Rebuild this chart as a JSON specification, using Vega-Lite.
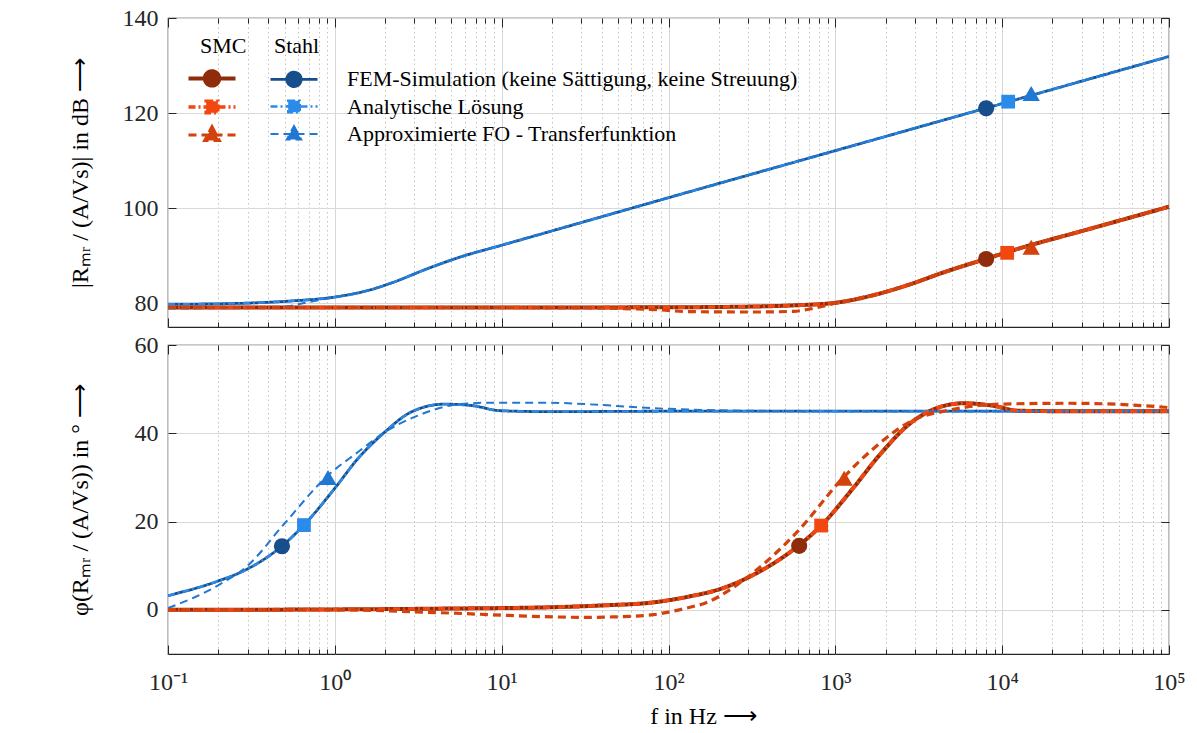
{
  "$schema": "https://vega.github.io/schema/vega-lite/v6.json",
  "padding": {"left": 67, "top": 5, "right": 10, "bottom": 5},
  "config": {
    "font": "Liberation Serif",
    "view": {"stroke": "#262626", "strokeWidth": 1.2},
    "axis": {"labelFont": "Liberation Serif", "labelFontSize": 24, "labelColor": "#262626", "titleFont": "Liberation Serif", "titleFontSize": 24, "titleFontWeight": "normal", "titleColor": "#000000", "domain": false, "tickColor": "#262626", "labelFlush": false, "labelOverlap": false, "labelBound": false}
  },
  "datasets": {
    "mag": [
      {"s": "Stahl-FEM", "f": 0.1, "v": 79.8}, {"s": "Stahl-FEM", "f": 0.1778, "v": 79.85}, {"s": "Stahl-FEM", "f": 0.3162, "v": 80.05}, {"s": "Stahl-FEM", "f": 0.5623, "v": 80.5}, {"s": "Stahl-FEM", "f": 1, "v": 81.3}, {"s": "Stahl-FEM", "f": 1.585, "v": 82.7}, {"s": "Stahl-FEM", "f": 2.239, "v": 84.4}, {"s": "Stahl-FEM", "f": 3.548, "v": 87.2}, {"s": "Stahl-FEM", "f": 5.623, "v": 89.7}, {"s": "Stahl-FEM", "f": 10, "v": 92.2}, {"s": "Stahl-FEM", "f": 31.62, "v": 97.2}, {"s": "Stahl-FEM", "f": 100, "v": 102.2}, {"s": "Stahl-FEM", "f": 1000, "v": 112.1}, {"s": "Stahl-FEM", "f": 10000, "v": 122.0}, {"s": "Stahl-FEM", "f": 100000, "v": 131.9},
      {"s": "Stahl-An", "f": 0.1, "v": 79.8}, {"s": "Stahl-An", "f": 0.1778, "v": 79.85}, {"s": "Stahl-An", "f": 0.3162, "v": 80.05}, {"s": "Stahl-An", "f": 0.5623, "v": 80.5}, {"s": "Stahl-An", "f": 1, "v": 81.3}, {"s": "Stahl-An", "f": 1.585, "v": 82.7}, {"s": "Stahl-An", "f": 2.239, "v": 84.4}, {"s": "Stahl-An", "f": 3.548, "v": 87.2}, {"s": "Stahl-An", "f": 5.623, "v": 89.7}, {"s": "Stahl-An", "f": 10, "v": 92.2}, {"s": "Stahl-An", "f": 31.62, "v": 97.2}, {"s": "Stahl-An", "f": 100, "v": 102.2}, {"s": "Stahl-An", "f": 1000, "v": 112.1}, {"s": "Stahl-An", "f": 10000, "v": 122.0}, {"s": "Stahl-An", "f": 100000, "v": 131.9},
      {"s": "Stahl-Ap", "f": 0.1, "v": 78.9}, {"s": "Stahl-Ap", "f": 0.3162, "v": 79.0}, {"s": "Stahl-Ap", "f": 0.5012, "v": 79.3}, {"s": "Stahl-Ap", "f": 0.7079, "v": 80.3}, {"s": "Stahl-Ap", "f": 1, "v": 81.3}, {"s": "Stahl-Ap", "f": 1.585, "v": 82.7}, {"s": "Stahl-Ap", "f": 2.239, "v": 84.4}, {"s": "Stahl-Ap", "f": 3.548, "v": 87.2}, {"s": "Stahl-Ap", "f": 5.623, "v": 89.7}, {"s": "Stahl-Ap", "f": 10, "v": 92.2}, {"s": "Stahl-Ap", "f": 31.62, "v": 97.2}, {"s": "Stahl-Ap", "f": 100, "v": 102.2}, {"s": "Stahl-Ap", "f": 1000, "v": 112.1}, {"s": "Stahl-Ap", "f": 10000, "v": 122.0}, {"s": "Stahl-Ap", "f": 100000, "v": 131.9},
      {"s": "SMC-FEM", "f": 0.1, "v": 79.1}, {"s": "SMC-FEM", "f": 10, "v": 79.1}, {"s": "SMC-FEM", "f": 100, "v": 79.15}, {"s": "SMC-FEM", "f": 316.2, "v": 79.3}, {"s": "SMC-FEM", "f": 562.3, "v": 79.55}, {"s": "SMC-FEM", "f": 1000, "v": 80.1}, {"s": "SMC-FEM", "f": 1778, "v": 81.9}, {"s": "SMC-FEM", "f": 2818, "v": 84.0}, {"s": "SMC-FEM", "f": 4467, "v": 86.5}, {"s": "SMC-FEM", "f": 7943, "v": 89.3}, {"s": "SMC-FEM", "f": 12589, "v": 91.5}, {"s": "SMC-FEM", "f": 31623, "v": 95.4}, {"s": "SMC-FEM", "f": 100000, "v": 100.3},
      {"s": "SMC-An", "f": 0.1, "v": 79.1}, {"s": "SMC-An", "f": 10, "v": 79.1}, {"s": "SMC-An", "f": 100, "v": 79.15}, {"s": "SMC-An", "f": 316.2, "v": 79.3}, {"s": "SMC-An", "f": 562.3, "v": 79.55}, {"s": "SMC-An", "f": 1000, "v": 80.1}, {"s": "SMC-An", "f": 1778, "v": 81.9}, {"s": "SMC-An", "f": 2818, "v": 84.0}, {"s": "SMC-An", "f": 4467, "v": 86.5}, {"s": "SMC-An", "f": 7943, "v": 89.3}, {"s": "SMC-An", "f": 12589, "v": 91.5}, {"s": "SMC-An", "f": 31623, "v": 95.4}, {"s": "SMC-An", "f": 100000, "v": 100.3},
      {"s": "SMC-Ap", "f": 0.1, "v": 79.1}, {"s": "SMC-Ap", "f": 10, "v": 79.1}, {"s": "SMC-Ap", "f": 31.62, "v": 79.05}, {"s": "SMC-Ap", "f": 63.1, "v": 78.8}, {"s": "SMC-Ap", "f": 89.1, "v": 78.6}, {"s": "SMC-Ap", "f": 125.9, "v": 78.25}, {"s": "SMC-Ap", "f": 316.2, "v": 78.15}, {"s": "SMC-Ap", "f": 562.3, "v": 78.3}, {"s": "SMC-Ap", "f": 707.9, "v": 78.8}, {"s": "SMC-Ap", "f": 1000, "v": 80.0}, {"s": "SMC-Ap", "f": 1778, "v": 81.9}, {"s": "SMC-Ap", "f": 2818, "v": 84.0}, {"s": "SMC-Ap", "f": 4467, "v": 86.5}, {"s": "SMC-Ap", "f": 7943, "v": 89.3}, {"s": "SMC-Ap", "f": 12589, "v": 91.5}, {"s": "SMC-Ap", "f": 31623, "v": 95.4}, {"s": "SMC-Ap", "f": 100000, "v": 100.3}
    ],
    "ph": [
      {"s": "Stahl-FEM", "f": 0.1, "v": 3.2}, {"s": "Stahl-FEM", "f": 0.1986, "v": 6.5}, {"s": "Stahl-FEM", "f": 0.2864, "v": 8.9}, {"s": "Stahl-FEM", "f": 0.4764, "v": 14.3}, {"s": "Stahl-FEM", "f": 0.6561, "v": 19.3}, {"s": "Stahl-FEM", "f": 0.9931, "v": 27.4}, {"s": "Stahl-FEM", "f": 1.371, "v": 34.2}, {"s": "Stahl-FEM", "f": 1.982, "v": 40.2}, {"s": "Stahl-FEM", "f": 2.864, "v": 44.8}, {"s": "Stahl-FEM", "f": 4.539, "v": 46.6}, {"s": "Stahl-FEM", "f": 6.561, "v": 46.3}, {"s": "Stahl-FEM", "f": 9.908, "v": 45.1}, {"s": "Stahl-FEM", "f": 19.77, "v": 44.9}, {"s": "Stahl-FEM", "f": 100, "v": 45.0}, {"s": "Stahl-FEM", "f": 100000, "v": 45.0},
      {"s": "Stahl-An", "f": 0.1, "v": 3.2}, {"s": "Stahl-An", "f": 0.1986, "v": 6.5}, {"s": "Stahl-An", "f": 0.2864, "v": 8.9}, {"s": "Stahl-An", "f": 0.4764, "v": 14.3}, {"s": "Stahl-An", "f": 0.6561, "v": 19.3}, {"s": "Stahl-An", "f": 0.9931, "v": 27.4}, {"s": "Stahl-An", "f": 1.371, "v": 34.2}, {"s": "Stahl-An", "f": 1.982, "v": 40.2}, {"s": "Stahl-An", "f": 2.864, "v": 44.8}, {"s": "Stahl-An", "f": 4.539, "v": 46.6}, {"s": "Stahl-An", "f": 6.561, "v": 46.3}, {"s": "Stahl-An", "f": 9.908, "v": 45.1}, {"s": "Stahl-An", "f": 19.77, "v": 44.9}, {"s": "Stahl-An", "f": 100, "v": 45.0}, {"s": "Stahl-An", "f": 100000, "v": 45.0},
      {"s": "Stahl-Ap", "f": 0.1, "v": 0.4}, {"s": "Stahl-Ap", "f": 0.1986, "v": 5.5}, {"s": "Stahl-Ap", "f": 0.2999, "v": 10.0}, {"s": "Stahl-Ap", "f": 0.4977, "v": 19.5}, {"s": "Stahl-Ap", "f": 0.9057, "v": 30.4}, {"s": "Stahl-Ap", "f": 1.371, "v": 35.7}, {"s": "Stahl-Ap", "f": 1.982, "v": 40.2}, {"s": "Stahl-Ap", "f": 3.141, "v": 44.0}, {"s": "Stahl-Ap", "f": 4.977, "v": 46.3}, {"s": "Stahl-Ap", "f": 7.889, "v": 46.9}, {"s": "Stahl-Ap", "f": 19.77, "v": 46.9}, {"s": "Stahl-Ap", "f": 39.81, "v": 46.4}, {"s": "Stahl-Ap", "f": 79.43, "v": 45.7}, {"s": "Stahl-Ap", "f": 158.5, "v": 45.3}, {"s": "Stahl-Ap", "f": 316.2, "v": 45.1}, {"s": "Stahl-Ap", "f": 1000, "v": 45.0}, {"s": "Stahl-Ap", "f": 100000, "v": 45.0},
      {"s": "SMC-FEM", "f": 0.1, "v": 0.0}, {"s": "SMC-FEM", "f": 1, "v": 0.1}, {"s": "SMC-FEM", "f": 5.012, "v": 0.3}, {"s": "SMC-FEM", "f": 20.42, "v": 0.6}, {"s": "SMC-FEM", "f": 39.81, "v": 1.0}, {"s": "SMC-FEM", "f": 81.28, "v": 1.7}, {"s": "SMC-FEM", "f": 131.8, "v": 3.0}, {"s": "SMC-FEM", "f": 205.1, "v": 4.75}, {"s": "SMC-FEM", "f": 331.1, "v": 8.15}, {"s": "SMC-FEM", "f": 603.9, "v": 14.6}, {"s": "SMC-FEM", "f": 822.2, "v": 19.1}, {"s": "SMC-FEM", "f": 1268, "v": 27.4}, {"s": "SMC-FEM", "f": 1862, "v": 35.3}, {"s": "SMC-FEM", "f": 2864, "v": 42.5}, {"s": "SMC-FEM", "f": 4198, "v": 45.9}, {"s": "SMC-FEM", "f": 5875, "v": 46.8}, {"s": "SMC-FEM", "f": 8630, "v": 46.3}, {"s": "SMC-FEM", "f": 12647, "v": 45.1}, {"s": "SMC-FEM", "f": 25119, "v": 45.0}, {"s": "SMC-FEM", "f": 100000, "v": 45.0},
      {"s": "SMC-An", "f": 0.1, "v": 0.0}, {"s": "SMC-An", "f": 1, "v": 0.1}, {"s": "SMC-An", "f": 5.012, "v": 0.3}, {"s": "SMC-An", "f": 20.42, "v": 0.6}, {"s": "SMC-An", "f": 39.81, "v": 1.0}, {"s": "SMC-An", "f": 81.28, "v": 1.7}, {"s": "SMC-An", "f": 131.8, "v": 3.0}, {"s": "SMC-An", "f": 205.1, "v": 4.75}, {"s": "SMC-An", "f": 331.1, "v": 8.15}, {"s": "SMC-An", "f": 603.9, "v": 14.6}, {"s": "SMC-An", "f": 822.2, "v": 19.1}, {"s": "SMC-An", "f": 1268, "v": 27.4}, {"s": "SMC-An", "f": 1862, "v": 35.3}, {"s": "SMC-An", "f": 2864, "v": 42.5}, {"s": "SMC-An", "f": 4198, "v": 45.9}, {"s": "SMC-An", "f": 5875, "v": 46.8}, {"s": "SMC-An", "f": 8630, "v": 46.3}, {"s": "SMC-An", "f": 12647, "v": 45.1}, {"s": "SMC-An", "f": 25119, "v": 45.0}, {"s": "SMC-An", "f": 100000, "v": 45.0},
      {"s": "SMC-Ap", "f": 0.1, "v": 0.0}, {"s": "SMC-Ap", "f": 1, "v": 0.0}, {"s": "SMC-Ap", "f": 2.399, "v": -0.3}, {"s": "SMC-Ap", "f": 3.311, "v": -0.5}, {"s": "SMC-Ap", "f": 5.129, "v": -0.75}, {"s": "SMC-Ap", "f": 10, "v": -1.2}, {"s": "SMC-Ap", "f": 20.42, "v": -1.6}, {"s": "SMC-Ap", "f": 31.62, "v": -1.7}, {"s": "SMC-Ap", "f": 46.77, "v": -1.6}, {"s": "SMC-Ap", "f": 81.28, "v": -1.1}, {"s": "SMC-Ap", "f": 100, "v": -0.5}, {"s": "SMC-Ap", "f": 140, "v": 0.75}, {"s": "SMC-Ap", "f": 162.2, "v": 1.4}, {"s": "SMC-Ap", "f": 234.4, "v": 4.6}, {"s": "SMC-Ap", "f": 260.6, "v": 5.8}, {"s": "SMC-Ap", "f": 588.8, "v": 17.6}, {"s": "SMC-Ap", "f": 1099, "v": 29.7}, {"s": "SMC-Ap", "f": 1774, "v": 37.2}, {"s": "SMC-Ap", "f": 3006, "v": 43.2}, {"s": "SMC-Ap", "f": 4624, "v": 45.1}, {"s": "SMC-Ap", "f": 9484, "v": 46.6}, {"s": "SMC-Ap", "f": 24774, "v": 46.8}, {"s": "SMC-Ap", "f": 94842, "v": 45.9}, {"s": "SMC-Ap", "f": 100000, "v": 45.8}
    ],
    "mk": [
      {"q": "mag", "s": "SMC-FEM", "f": 8017, "v": 89.3}, {"q": "mag", "s": "SMC-An", "f": 10715, "v": 90.6}, {"q": "mag", "s": "SMC-Ap", "f": 14928, "v": 91.8},
      {"q": "mag", "s": "Stahl-FEM", "f": 8017, "v": 121.0}, {"q": "mag", "s": "Stahl-An", "f": 10864, "v": 122.4}, {"q": "mag", "s": "Stahl-Ap", "f": 14928, "v": 124.1},
      {"q": "ph", "s": "Stahl-FEM", "f": 0.482, "v": 14.4}, {"q": "ph", "s": "Stahl-An", "f": 0.653, "v": 19.2}, {"q": "ph", "s": "Stahl-Ap", "f": 0.91, "v": 30.0},
      {"q": "ph", "s": "SMC-FEM", "f": 607, "v": 14.5}, {"q": "ph", "s": "SMC-An", "f": 822, "v": 19.1}, {"q": "ph", "s": "SMC-Ap", "f": 1130, "v": 29.8}
    ]
  },
  "spacing": 3,
  "vconcat": [
    {
      "width": 1001, "height": 309,
      "layer": [
        {
          "data": {"name": "mag"},
          "mark": {"type": "point", "opacity": 0},
          "encoding": {
            "x": {"field": "f", "type": "quantitative", "scale": {"type": "log", "domain": [0.1, 100000], "nice": false},
              "axis": {"orient": "top", "values": [0.1,0.2,0.3,0.4,0.5,0.6,0.7,0.8,0.9,1,2,3,4,5,6,7,8,9,10,20,30,40,50,60,70,80,90,100,200,300,400,500,600,700,800,900,1000,2000,3000,4000,5000,6000,7000,8000,9000,10000,20000,30000,40000,50000,60000,70000,80000,90000,100000], "labels": false, "grid": false, "title": null,
                "tickSize": {"condition": {"test": "abs(log(datum.value)/LN10 - round(log(datum.value)/LN10)) < 0.001", "value": -9}, "value": -5}}},
            "y": {"field": "v", "type": "quantitative", "scale": {"domain": [75, 140], "nice": false, "zero": false},
              "axis": {"orient": "right", "values": [80, 100, 120, 140], "labels": false, "grid": false, "title": null, "tickSize": -8}}
          }
        },
        {
          "data": {"name": "mag"},
          "transform": [{"filter": {"field": "s", "oneOf": ["SMC-FEM", "Stahl-FEM"]}}],
          "mark": {"type": "line", "interpolate": "monotone", "clip": true},
          "encoding": {
            "x": {"field": "f", "type": "quantitative", "scale": {"type": "log", "domain": [0.1, 100000], "nice": false},
              "axis": {"orient": "bottom", "values": [0.1,0.2,0.3,0.4,0.5,0.6,0.7,0.8,0.9,1,2,3,4,5,6,7,8,9,10,20,30,40,50,60,70,80,90,100,200,300,400,500,600,700,800,900,1000,2000,3000,4000,5000,6000,7000,8000,9000,10000,20000,30000,40000,50000,60000,70000,80000,90000,100000], "labels": false, "title": null, "grid": true,
                "gridColor": {"condition": {"test": "abs(log(datum.value)/LN10 - round(log(datum.value)/LN10)) < 0.001", "value": "#d6d6d6"}, "value": "#c2c2c2"},
                "gridDash": {"condition": {"test": "abs(log(datum.value)/LN10 - round(log(datum.value)/LN10)) < 0.001", "value": []}, "value": [1.5, 3]},
                "tickSize": {"condition": {"test": "abs(log(datum.value)/LN10 - round(log(datum.value)/LN10)) < 0.001", "value": -9}, "value": -5}}},
            "y": {"field": "v", "type": "quantitative", "scale": {"domain": [75, 140], "nice": false, "zero": false},
              "axis": {"orient": "left", "values": [80, 100, 120, 140], "title": "|Rₘᵣ / (A/Vs)|  in dB  ⟶", "grid": true, "gridColor": "#d9d9d9", "tickSize": -8, "labelPadding": 18, "titlePadding": 30}},
            "color": {"field": "s", "type": "nominal", "scale": {"domain": ["SMC-FEM","SMC-An","SMC-Ap","Stahl-FEM","Stahl-An","Stahl-Ap"], "range": ["#8E2C0C","#F2470F","#D3410C","#174E8C","#2A8BEA","#1F78D2"]}},
            "strokeDash": {"field": "s", "type": "nominal", "scale": {"domain": ["SMC-FEM","SMC-An","SMC-Ap","Stahl-FEM","Stahl-An","Stahl-Ap"], "range": [[1,0],[7,3,2,3],[8,5],[1,0],[7,3,2,3],[8,5]]}, "legend": null},
            "strokeWidth": {"field": "s", "type": "ordinal", "scale": {"domain": ["SMC-FEM","SMC-An","SMC-Ap","Stahl-FEM","Stahl-An","Stahl-Ap"], "range": [4,2,2,4,2,2]}, "legend": null}
          }
        },
        {
          "data": {"name": "mag"},
          "transform": [{"filter": {"field": "s", "oneOf": ["SMC-An", "Stahl-An", "SMC-Ap", "Stahl-Ap"]}}],
          "mark": {"type": "line", "interpolate": "monotone", "clip": true},
          "encoding": {
            "x": {"field": "f", "type": "quantitative", "scale": {"type": "log", "domain": [0.1, 100000], "nice": false}, "axis": null},
            "y": {"field": "v", "type": "quantitative", "scale": {"domain": [75, 140], "nice": false, "zero": false}, "axis": null},
            "color": {"field": "s", "type": "nominal"},
            "strokeDash": {"field": "s", "type": "nominal", "legend": null},
            "strokeWidth": {"field": "s", "type": "ordinal", "legend": null}
          }
        },
        {
          "data": {"name": "mk"},
          "transform": [{"filter": "datum.q == 'mag' && indexof(datum.s, 'FEM') >= 0"}],
          "mark": {"type": "point", "shape": "circle", "filled": true, "size": 260, "opacity": 1},
          "encoding": {
            "x": {"field": "f", "type": "quantitative", "scale": {"type": "log", "domain": [0.1, 100000], "nice": false}, "axis": null},
            "y": {"field": "v", "type": "quantitative", "scale": {"domain": [75, 140], "nice": false, "zero": false}, "axis": null},
            "color": {"field": "s", "type": "nominal"}
          }
        },
        {
          "data": {"name": "mk"},
          "transform": [{"filter": "datum.q == 'mag' && indexof(datum.s, '-An') >= 0"}],
          "mark": {"type": "point", "shape": "square", "filled": true, "size": 190, "opacity": 1},
          "encoding": {
            "x": {"field": "f", "type": "quantitative", "scale": {"type": "log", "domain": [0.1, 100000], "nice": false}, "axis": null},
            "y": {"field": "v", "type": "quantitative", "scale": {"domain": [75, 140], "nice": false, "zero": false}, "axis": null},
            "color": {"field": "s", "type": "nominal"}
          }
        },
        {
          "data": {"name": "mk"},
          "transform": [{"filter": "datum.q == 'mag' && indexof(datum.s, '-Ap') >= 0"}],
          "mark": {"type": "point", "shape": "triangle-up", "filled": true, "size": 300, "opacity": 1},
          "encoding": {
            "x": {"field": "f", "type": "quantitative", "scale": {"type": "log", "domain": [0.1, 100000], "nice": false}, "axis": null},
            "y": {"field": "v", "type": "quantitative", "scale": {"domain": [75, 140], "nice": false, "zero": false}, "axis": null},
            "color": {"field": "s", "type": "nominal"}
          }
        },
        {
          "data": {"name": "mk"},
          "transform": [{"filter": "datum.v > 1000"}],
          "mark": {"type": "point", "filled": true},
          "encoding": {
            "shape": {"field": "s", "type": "nominal", "scale": {"domain": ["SMC-FEM","SMC-An","SMC-Ap","Stahl-FEM","Stahl-An","Stahl-Ap"], "range": [
              "M-2.35,0H2.35M0.72,0A0.72,0.72,0,1,1,-0.72,0A0.72,0.72,0,1,1,0.72,0Z",
              "M-2.35,0H2.35M-0.58,-0.58H0.58V0.58H-0.58Z",
              "M-2.35,0H2.35M0,-0.8L0.72,0.55H-0.72Z",
              "M-2.35,0H2.35M0.72,0A0.72,0.72,0,1,1,-0.72,0A0.72,0.72,0,1,1,0.72,0Z",
              "M-2.35,0H2.35M-0.58,-0.58H0.58V0.58H-0.58Z",
              "M-2.35,0H2.35M0,-0.8L0.72,0.55H-0.72Z"]}, "legend": null},
            "color": {"field": "s", "type": "nominal",
              "legend": {
                "title": "\u00a0SMC\u00a0\u00a0\u00a0\u00a0\u00a0Stahl",
                "orient": "none", "legendX": 32, "legendY": 18,
                "columns": 2, "gridAlign": "each",
                "symbolSize": 400,
                "labelExpr": "datum.label == 'Stahl-FEM' ? 'FEM-Simulation (keine Sättigung, keine Streuung)' : datum.label == 'Stahl-An' ? 'Analytische Lösung' : datum.label == 'Stahl-Ap' ? 'Approximierte FO - Transferfunktion' : ''",
                "labelFont": "Liberation Serif", "labelFontSize": 22, "labelColor": "#000000", "labelLimit": 800,
                "titleFont": "Liberation Serif", "titleFontSize": 22, "titleFontWeight": "normal", "titleColor": "#000000", "titlePadding": 8,
                "columnPadding": -1, "labelOffset": 41, "rowPadding": 0,
                "encode": {"symbols": {"update": {
                  "shape": {"scale": "shape", "field": "value"},
                  "fill": {"scale": "color", "field": "value"},
                  "stroke": {"scale": "color", "field": "value"},
                  "strokeDash": {"scale": "strokeDash", "field": "value"},
                  "strokeWidth": {"scale": "strokeWidth", "field": "value"},
                  "opacity": {"value": 1}
                }}}
              }
            }
          }
        }
      ]
    },
    {
      "width": 1001, "height": 309,
      "layer": [
        {
          "data": {"name": "ph"},
          "mark": {"type": "point", "opacity": 0},
          "encoding": {
            "x": {"field": "f", "type": "quantitative", "scale": {"type": "log", "domain": [0.1, 100000], "nice": false},
              "axis": {"orient": "top", "values": [0.1,0.2,0.3,0.4,0.5,0.6,0.7,0.8,0.9,1,2,3,4,5,6,7,8,9,10,20,30,40,50,60,70,80,90,100,200,300,400,500,600,700,800,900,1000,2000,3000,4000,5000,6000,7000,8000,9000,10000,20000,30000,40000,50000,60000,70000,80000,90000,100000], "labels": false, "grid": false, "title": null,
                "tickSize": {"condition": {"test": "abs(log(datum.value)/LN10 - round(log(datum.value)/LN10)) < 0.001", "value": -9}, "value": -5}}},
            "y": {"field": "v", "type": "quantitative", "scale": {"domain": [-10, 60], "nice": false, "zero": false},
              "axis": {"orient": "right", "values": [0, 20, 40, 60], "labels": false, "grid": false, "title": null, "tickSize": -8}}
          }
        },
        {
          "data": {"name": "ph"},
          "transform": [{"filter": {"field": "s", "oneOf": ["SMC-FEM", "Stahl-FEM"]}}],
          "mark": {"type": "line", "interpolate": "monotone", "clip": true},
          "encoding": {
            "x": {"field": "f", "type": "quantitative", "scale": {"type": "log", "domain": [0.1, 100000], "nice": false},
              "axis": {"orient": "bottom", "values": [0.1,0.2,0.3,0.4,0.5,0.6,0.7,0.8,0.9,1,2,3,4,5,6,7,8,9,10,20,30,40,50,60,70,80,90,100,200,300,400,500,600,700,800,900,1000,2000,3000,4000,5000,6000,7000,8000,9000,10000,20000,30000,40000,50000,60000,70000,80000,90000,100000],
                "title": "f  in Hz  ⟶", "titlePadding": 6, "titleX": 535, "grid": true,
                "labelExpr": "(abs(log(datum.value)/LN10 - round(log(datum.value)/LN10)) < 0.001) ? '10' + ['⁻¹','⁰','¹','²','³','⁴','⁵'][round(log(datum.value)/LN10) + 1] : ''",
                "labelPadding": 25,
                "gridColor": {"condition": {"test": "abs(log(datum.value)/LN10 - round(log(datum.value)/LN10)) < 0.001", "value": "#d6d6d6"}, "value": "#c2c2c2"},
                "gridDash": {"condition": {"test": "abs(log(datum.value)/LN10 - round(log(datum.value)/LN10)) < 0.001", "value": []}, "value": [1.5, 3]},
                "tickSize": {"condition": {"test": "abs(log(datum.value)/LN10 - round(log(datum.value)/LN10)) < 0.001", "value": -9}, "value": -5}}},
            "y": {"field": "v", "type": "quantitative", "scale": {"domain": [-10, 60], "nice": false, "zero": false},
              "axis": {"orient": "left", "values": [0, 20, 40, 60], "title": "φ(Rₘᵣ / (A/Vs))  in °  ⟶", "grid": true, "gridColor": "#d9d9d9", "tickSize": -8, "labelPadding": 18, "titlePadding": 42}},
            "color": {"field": "s", "type": "nominal"},
            "strokeDash": {"field": "s", "type": "nominal", "legend": null},
            "strokeWidth": {"field": "s", "type": "ordinal", "legend": null}
          }
        },
        {
          "data": {"name": "ph"},
          "transform": [{"filter": {"field": "s", "oneOf": ["SMC-An", "Stahl-An", "SMC-Ap", "Stahl-Ap"]}}],
          "mark": {"type": "line", "interpolate": "monotone", "clip": true},
          "encoding": {
            "x": {"field": "f", "type": "quantitative", "scale": {"type": "log", "domain": [0.1, 100000], "nice": false}, "axis": null},
            "y": {"field": "v", "type": "quantitative", "scale": {"domain": [-10, 60], "nice": false, "zero": false}, "axis": null},
            "color": {"field": "s", "type": "nominal"},
            "strokeDash": {"field": "s", "type": "nominal", "legend": null},
            "strokeWidth": {"field": "s", "type": "ordinal", "legend": null}
          }
        },
        {
          "data": {"name": "mk"},
          "transform": [{"filter": "datum.q == 'ph' && indexof(datum.s, 'FEM') >= 0"}],
          "mark": {"type": "point", "shape": "circle", "filled": true, "size": 260, "opacity": 1},
          "encoding": {
            "x": {"field": "f", "type": "quantitative", "scale": {"type": "log", "domain": [0.1, 100000], "nice": false}, "axis": null},
            "y": {"field": "v", "type": "quantitative", "scale": {"domain": [-10, 60], "nice": false, "zero": false}, "axis": null},
            "color": {"field": "s", "type": "nominal"}
          }
        },
        {
          "data": {"name": "mk"},
          "transform": [{"filter": "datum.q == 'ph' && indexof(datum.s, '-An') >= 0"}],
          "mark": {"type": "point", "shape": "square", "filled": true, "size": 190, "opacity": 1},
          "encoding": {
            "x": {"field": "f", "type": "quantitative", "scale": {"type": "log", "domain": [0.1, 100000], "nice": false}, "axis": null},
            "y": {"field": "v", "type": "quantitative", "scale": {"domain": [-10, 60], "nice": false, "zero": false}, "axis": null},
            "color": {"field": "s", "type": "nominal"}
          }
        },
        {
          "data": {"name": "mk"},
          "transform": [{"filter": "datum.q == 'ph' && indexof(datum.s, '-Ap') >= 0"}],
          "mark": {"type": "point", "shape": "triangle-up", "filled": true, "size": 300, "opacity": 1},
          "encoding": {
            "x": {"field": "f", "type": "quantitative", "scale": {"type": "log", "domain": [0.1, 100000], "nice": false}, "axis": null},
            "y": {"field": "v", "type": "quantitative", "scale": {"domain": [-10, 60], "nice": false, "zero": false}, "axis": null},
            "color": {"field": "s", "type": "nominal"}
          }
        }
      ]
    }
  ]
}
